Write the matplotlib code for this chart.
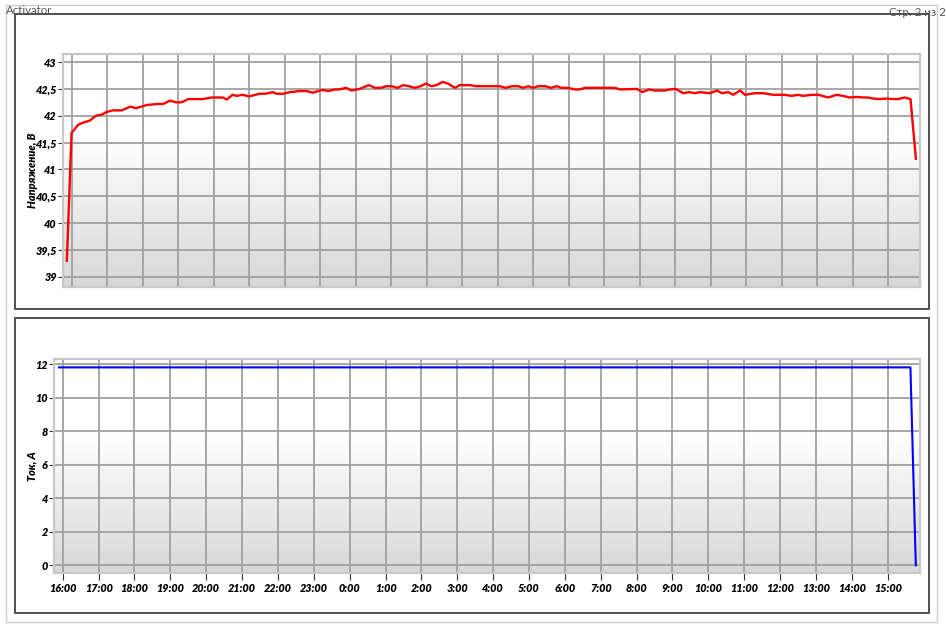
#!/usr/bin/env python
"""
Activator report page: charge voltage and current over ~24 h.
"""

import numpy as np
import matplotlib
matplotlib.use('Agg')
import matplotlib.pyplot as plt
from matplotlib.colors import LinearSegmentedColormap
from matplotlib.patches import Rectangle

plt.rcParams['font.family'] = ['Lato', 'DejaVu Sans']

# time in minutes after 16:00 of the first day
volt_minutes = [-8, 0, 11, 19, 31, 41, 51, 59, 70, 85,
                99, 109, 127, 146, 155, 166, 177, 186, 197, 222,
                237, 256, 262, 272, 279, 289, 300, 318, 328, 340,
                346, 358, 369, 386, 397, 408, 423, 434, 445, 453,
                464, 473, 487, 502, 513, 523, 532, 541, 551, 560,
                570, 580, 590, 599, 608, 617, 627, 636, 648, 656,
                673, 684, 724, 734, 744, 755, 763, 772, 780, 789,
                800, 811, 820, 828, 839, 850, 859, 868, 918, 927,
                955, 965, 976, 986, 1003, 1011, 1021, 1034, 1044, 1053,
                1062, 1079, 1091, 1099, 1110, 1118, 1130, 1138, 1155, 1169,
                1186, 1205, 1217, 1228, 1236, 1251, 1262, 1279, 1293, 1304,
                1315, 1326, 1338, 1346, 1355, 1366, 1377, 1389, 1397, 1408,
                1418, 1427]
volt_values = [39.30, 41.68, 41.83, 41.87, 41.91, 42.00, 42.02, 42.07, 42.10, 42.10,
               42.17, 42.14, 42.20, 42.22, 42.22, 42.28, 42.25, 42.25, 42.31, 42.31,
               42.34, 42.34, 42.30, 42.39, 42.37, 42.39, 42.36, 42.41, 42.41, 42.44,
               42.41, 42.41, 42.44, 42.46, 42.46, 42.43, 42.48, 42.46, 42.49, 42.49,
               42.52, 42.47, 42.50, 42.57, 42.52, 42.52, 42.55, 42.55, 42.52, 42.57,
               42.55, 42.52, 42.55, 42.60, 42.55, 42.57, 42.63, 42.60, 42.52, 42.57,
               42.57, 42.55, 42.55, 42.52, 42.55, 42.55, 42.52, 42.55, 42.52, 42.55,
               42.55, 42.52, 42.55, 42.52, 42.52, 42.49, 42.49, 42.52, 42.52, 42.49,
               42.50, 42.44, 42.49, 42.47, 42.47, 42.49, 42.50, 42.42, 42.44, 42.42,
               42.44, 42.42, 42.47, 42.42, 42.44, 42.39, 42.47, 42.39, 42.42, 42.42,
               42.39, 42.39, 42.37, 42.39, 42.37, 42.39, 42.39, 42.34, 42.39, 42.37,
               42.34, 42.35, 42.34, 42.34, 42.32, 42.31, 42.32, 42.31, 42.31, 42.34,
               42.31, 41.20]

current_minutes = [-6, 1418, 1427]
current_values = [11.8, 11.8, 0.0]

hour_labels = ['16:00', '17:00', '18:00', '19:00', '20:00', '21:00', '22:00',
               '23:00', '0:00', '1:00', '2:00', '3:00', '4:00', '5:00', '6:00',
               '7:00', '8:00', '9:00', '10:00', '11:00', '12:00', '13:00',
               '14:00', '15:00']
volt_ticks = [39, 39.5, 40, 40.5, 41, 41.5, 42, 42.5, 43]
current_ticks = [0, 2, 4, 6, 8, 10, 12]

W, H = 946, 629
TICK_FONT = dict(fontsize=7.8, fontweight='heavy', fontstyle='italic')

fade = LinearSegmentedColormap.from_list(
    'fade', [(0.0, '#ffffff'), (0.35, '#ffffff'), (1.0, '#d7d7d7')])


def add_axes_px(fig, left, top, right, bottom):
    return fig.add_axes([left / W, 1 - bottom / H,
                         (right - left) / W, (bottom - top) / H])


def add_box_px(fig, left, top, right, bottom, **kw):
    rect = Rectangle((left / W, 1 - bottom / H), (right - left) / W,
                     (bottom - top) / H, transform=fig.transFigure,
                     fill=False, **kw)
    fig.add_artist(rect)


def style_axes(ax):
    grad = np.linspace(0, 1, 256).reshape(-1, 1)
    ax.imshow(grad, cmap=fade, aspect='auto', extent=[0, 1, 0, 1],
              transform=ax.transAxes, zorder=0)
    ax.grid(True, color='#a0a0a0', linewidth=1.3)
    for s in ax.spines.values():
        s.set_color('#c8c8c8')
        s.set_linewidth(1.6)
    ax.tick_params(axis='both', colors='#333333', direction='out',
                   length=3.5, width=0.8, pad=1)
    ax.tick_params(axis='both', labelcolor='black')
    ax.set_xlim(-14.5, 1434)


fig = plt.figure(figsize=(W / 100, H / 100), dpi=100)

# page frame and panel boxes
add_box_px(fig, 6, 5, 937, 622, ec='#cccccc', lw=1.0)
add_box_px(fig, 15, 14, 929, 309, ec='#505050', lw=1.4)
add_box_px(fig, 15, 318, 929, 613, ec='#505050', lw=1.4)
fig.text(6 / W, 1 - 10 / H, 'Activator', fontsize=8.3, color='#555555',
         va='center', ha='left')
fig.text(946 / W, 1 - 12 / H, 'Стр. 2 из 2', fontsize=8.3, color='#555555',
         va='center', ha='right')

# voltage panel
ax1 = add_axes_px(fig, 63, 54, 920, 287)
style_axes(ax1)
ax1.plot(volt_minutes, volt_values, color='#ff0000', linewidth=1.7, zorder=3)
ax1.set_ylim(38.81, 43.15)
ax1.set_yticks(volt_ticks,
               labels=[f'{v:g}'.replace('.', ',') for v in volt_ticks],
               **TICK_FONT)
ax1.set_xticks([60 * i for i in range(len(hour_labels))])
ax1.tick_params(axis='x', length=0, labelbottom=False)
fig.text(32 / W, 1 - 170 / H, 'Напряжение, В', rotation=90,
         ha='center', va='center', **TICK_FONT)

# current panel
ax2 = add_axes_px(fig, 54, 359, 920, 573)
style_axes(ax2)
ax2.plot(current_minutes, current_values, color='#0000ff', linewidth=1.5,
         zorder=3)
ax2.set_ylim(-0.46, 12.3)
ax2.set_yticks(current_ticks, labels=[str(v) for v in current_ticks],
               **TICK_FONT)
ax2.set_xticks([60 * i for i in range(len(hour_labels))],
               labels=hour_labels, **TICK_FONT)
ax2.tick_params(axis='x', length=5, pad=2)
fig.text(32 / W, 1 - 466 / H, 'Ток, А', rotation=90,
         ha='center', va='center', **TICK_FONT)

fig.savefig('out.png', dpi=100)
plt.close(fig)
